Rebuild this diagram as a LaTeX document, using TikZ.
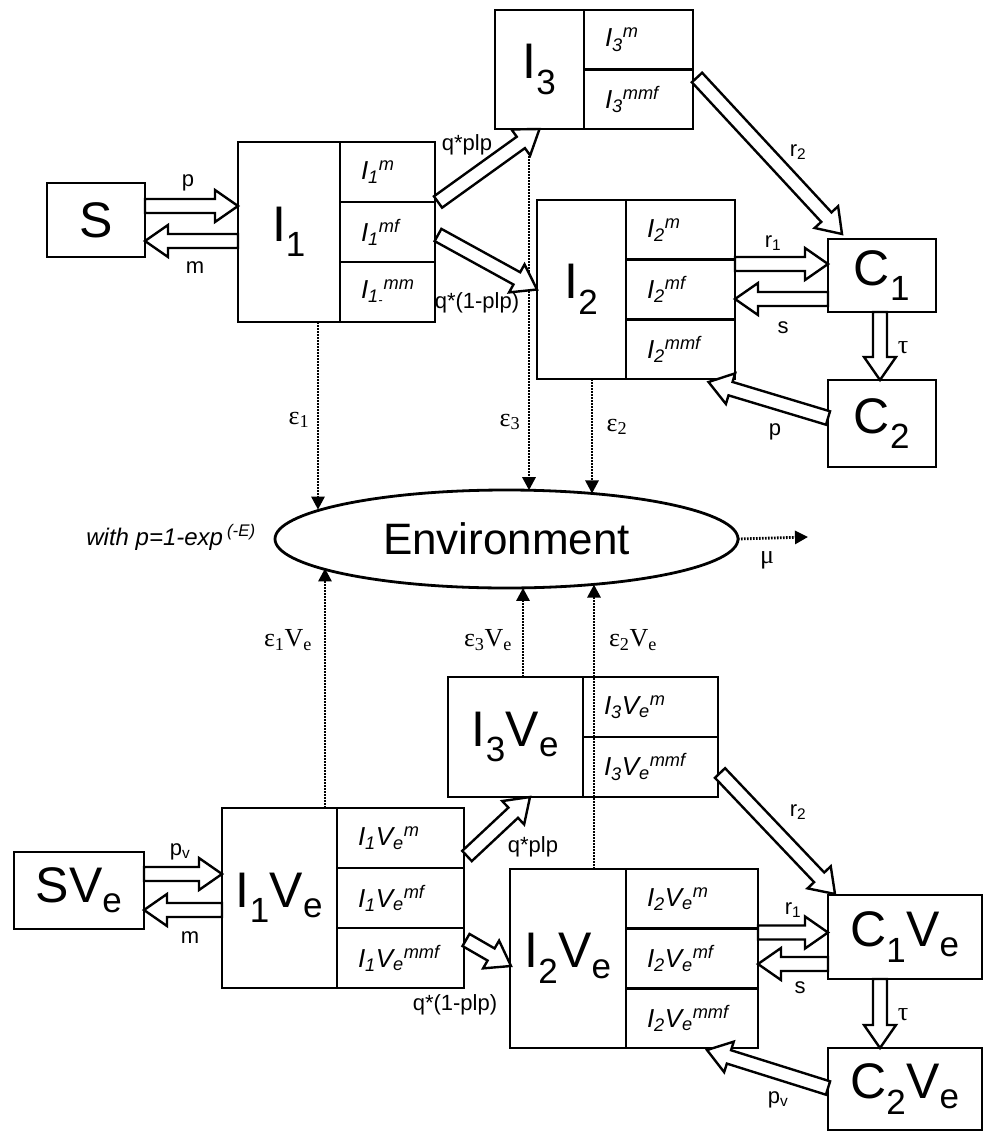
\documentclass[tikz,border=0pt]{standalone}
\usepackage{fontspec}
\setmainfont{Liberation Sans}
\newfontfamily\greekfont{Liberation Serif}
\usetikzlibrary{shapes.geometric}
\usetikzlibrary{arrows.meta, calc, positioning}

\begin{document}
\begin{tikzpicture}[x = 1pt, y = -1pt, > = {Triangle[length=13pt, width=13pt]},
	box/.style = {draw, line width=2.8pt, outer sep=0pt, inner sep=0pt, anchor=north west, font=\fontsize{50}{52}\selectfont},
	cell/.style = {draw, line width=2.8pt, outer sep=0pt, inner xsep=21pt, inner ysep=0pt, anchor=north west, align=left, minimum height=60pt, text width=#1, font=\fontsize{26}{28}\selectfont\itshape},
	env/.style = {ellipse, draw, line width=2.8pt, minimum width=463pt, minimum height=98pt, inner sep=0pt, outer sep=0pt, font=\fontsize{44}{46}\selectfont},
	eps/.style = {->, line width=2.8pt, dash pattern=on 1.6pt off 1.4pt},
	lab/.style = {inner sep=0pt, font=\fontsize{22}{24}\selectfont},
	glab/.style = {inner sep=0pt, font=\fontsize{26}{28}\greekfont},
	fat/.style = {draw, line width=2.4pt, line join=miter, fill=white,
		to path={let \p1=(\tikztostart), \p2=(\tikztotarget),
			\n1={atan2(\y2-\y1,\x2-\x1)}, \n2={veclen(\x2-\x1,\y2-\y1)} in
			($(\p1)+(\n1+90:7pt)$) -- ($(\p1)+(\n1+90:7pt)+(\n1:{\n2-23pt})$)
			-- ($(\p1)+(\n1+90:16pt)+(\n1:{\n2-23pt})$) -- (\p2)
			-- ($(\p1)+(\n1-90:16pt)+(\n1:{\n2-23pt})$)
			-- ($(\p1)+(\n1-90:7pt)+(\n1:{\n2-23pt})$) -- ($(\p1)+(\n1-90:7pt)$) -- cycle}}]

\useasboundingbox (0,0) rectangle (989,1132);

% upper half: unvaccinated
\node[box, minimum width=98pt, minimum height=74pt]		(S)		at (47,183)		{S};
\node[box, minimum width=102pt, minimum height=180pt]	(I1)	at (238,142)	{I\textsubscript{1}};
\node[cell=53pt]								(I1m)	at (I1.north east)	{I\textsubscript{1}\textsuperscript{m}};
\node[cell=53pt, below=0pt of I1m]				(I1mf)						{I\textsubscript{1}\textsuperscript{mf}};
\node[cell=53pt, below=0pt of I1mf]				(I1mm)						{I\textsubscript{1\textsubscript{-}}\textsuperscript{mm}};
\node[box, minimum width=89pt, minimum height=119pt]	(I3)	at (495,10)		{I\textsubscript{3}};
\node[cell=67pt, minimum height=59.5pt]			(I3m)	at (I3.north east)	{I\textsubscript{3}\textsuperscript{m}};
\node[cell=67pt, minimum height=59.5pt, below=0pt of I3m]	(I3mmf)			{I\textsubscript{3}\textsuperscript{mmf}};
\node[box, minimum width=89pt, minimum height=179pt]	(I2)	at (537,200)	{I\textsubscript{2}};
\node[cell=67pt, minimum height=59.67pt]		(I2m)	at (I2.north east)	{I\textsubscript{2}\textsuperscript{m}};
\node[cell=67pt, minimum height=59.67pt, below=0pt of I2m]	(I2mf)			{I\textsubscript{2}\textsuperscript{mf}};
\node[cell=67pt, minimum height=59.67pt, below=0pt of I2mf]	(I2mmf)			{I\textsubscript{2}\textsuperscript{mmf}};
\node[box, minimum width=108pt, minimum height=73pt]	(C1)	at (828,239)	{C\textsubscript{1}};
\node[box, minimum width=108pt, minimum height=87pt]	(C2)	at (828,380)	{C\textsubscript{2}};

% environment
\node[env]										(Env)	at (506.5,539)	{Environment};
\node[inner sep=0pt, font=\fontsize{24}{26}\selectfont\itshape]	(withp)	at (171,537)	{with p=1-exp\,\textsuperscript{(-E)}};
\coordinate										(muend)	at (808,537);

% lower half: vaccinated
\node[box, minimum width=130pt, minimum height=77pt]	(SV)	at (14,852)		{SV\textsubscript{e}};
\node[box, minimum width=115pt, minimum height=180pt]	(I1V)	at (222,808)	{I\textsubscript{1}V\textsubscript{e}};
\node[cell=85pt]								(I1Vm)	at (I1V.north east)	{I\textsubscript{1}V\textsubscript{e}\textsuperscript{m}};
\node[cell=85pt, below=0pt of I1Vm]				(I1Vmf)						{I\textsubscript{1}V\textsubscript{e}\textsuperscript{mf}};
\node[cell=85pt, below=0pt of I1Vmf]			(I1Vmmf)					{I\textsubscript{1}V\textsubscript{e}\textsuperscript{mmf}};
\node[box, minimum width=135pt, minimum height=120pt]	(I3V)	at (448,677)	{I\textsubscript{3}V\textsubscript{e}};
\node[cell=93pt]								(I3Vm)	at (I3V.north east)	{I\textsubscript{3}V\textsubscript{e}\textsuperscript{m}};
\node[cell=93pt, below=0pt of I3Vm]				(I3Vmmf)					{I\textsubscript{3}V\textsubscript{e}\textsuperscript{mmf}};
\node[box, minimum width=116pt, minimum height=179pt]	(I2V)	at (510,869)	{I\textsubscript{2}V\textsubscript{e}};
\node[cell=90pt, minimum height=59.67pt]		(I2Vm)	at (I2V.north east)	{I\textsubscript{2}V\textsubscript{e}\textsuperscript{m}};
\node[cell=90pt, minimum height=59.67pt, below=0pt of I2Vm]	(I2Vmf)			{I\textsubscript{2}V\textsubscript{e}\textsuperscript{mf}};
\node[cell=90pt, minimum height=59.67pt, below=0pt of I2Vmf]	(I2Vmmf)		{I\textsubscript{2}V\textsubscript{e}\textsuperscript{mmf}};
\node[box, minimum width=154pt, minimum height=84pt]	(C1V)	at (828,895)	{C\textsubscript{1}V\textsubscript{e}};
\node[box, minimum width=154pt, minimum height=82pt]	(C2V)	at (828,1048)	{C\textsubscript{2}V\textsubscript{e}};

% shedding into the environment
\coordinate	(e1)	at ([xshift=29pt]I1.south);
\coordinate	(e3)	at ([xshift=-10.5pt]I3.south);
\coordinate	(e2)	at ([xshift=10.5pt]I2.south);
\coordinate	(e1V)	at ([xshift=45.5pt]I1V.north);
\coordinate	(e3V)	at ([xshift=7.5pt]I3V.north);
\coordinate	(e2V)	at ([xshift=-32pt]I2V.north east);
\draw[eps]	(e1)	-- (e1 |- Env.171);
\draw[eps]	(e3)	-- (e3 |- Env.65);
\draw[eps]	(e2)	-- (e2 |- Env.28);
\draw[eps]	(e1V)	-- (e1V |- Env.189);
\draw[eps]	(e3V)	-- (e3V |- Env.289);
\draw[eps]	(e2V)	-- (e2V |- Env.332);
\draw[eps]	(Env.east)	-- (muend);

% transitions
\path	([yshift=14pt]S.east)		edge[fat]	([yshift=26pt]I1.west);
\path	([yshift=-9pt]I1.west)		edge[fat]	([yshift=-21pt]S.east);
\path	([xshift=3pt]I1m.south east)	edge[fat]	(I3.south);
\path	([shift={(3pt,-3pt)}]I1mf.east)	edge[fat]	(I2.west);
\path	([shift={(4pt,-8pt)}]I3m.south east)	edge[fat]	([shift={(14pt,5pt)}]C1.north west);
\path	([yshift=25.5pt]I2mf.east)	edge[fat]	([yshift=11.5pt]C1.west);
\path	([yshift=-23.5pt]C1.west)	edge[fat]	([yshift=-9.5pt]I2mf.east);
\path	([xshift=-2pt]C1.south)		edge[fat]	([xshift=-2pt]C2.north);
\path	([yshift=5.5pt]C2.west)		edge[fat]	([shift={(28pt,-3pt)}]I2mmf.south);

\path	([yshift=16.5pt]SV.east)	edge[fat]	([yshift=24pt]I1V.west);
\path	([yshift=-12pt]I1V.west)	edge[fat]	([yshift=-19.5pt]SV.east);
\path	([shift={(3pt,12pt)}]I1Vm.south east)	edge[fat]	([xshift=14.5pt]I3V.south);
\path	([shift={(2pt,-12pt)}]I1Vmmf.north east)	edge[fat]	([shift={(1pt,-7.5pt)}]I2V.west);
\path	([shift={(2pt,-6pt)}]I3Vmmf.east)	edge[fat]	([shift={(7pt,1pt)}]C1V.north west);
\path	([yshift=26pt]I2Vmf.east)	edge[fat]	([yshift=4.5pt]C1V.west);
\path	([yshift=-27pt]C1V.west)	edge[fat]	([yshift=-5.5pt]I2Vmf.east);
\path	([xshift=-25pt]C1V.south)	edge[fat]	([xshift=-25pt]C2V.north);
\path	([yshift=1pt]C2V.west)		edge[fat]	([shift={(15pt,-2pt)}]I2Vmmf.south);

% labels
\node[lab]	(lp)	at (188,183)	{p};
\node[lab]	(lm)	at (195,268)	{m};
\node[lab]	(lq)	at (467,145)	{q*plp};
\node[lab]	(lnq)	at (477,303)	{q*(1-plp)};
\node[lab]	(lr2)	at (798,152)	{r\textsubscript{2}};
\node[lab]	(lr1)	at (773,243)	{r\textsubscript{1}};
\node[lab]	(ls)	at (783,328)	{s};
\node[glab]	(ltau)	at (903,348)	{τ};
\node[lab]	(lpc)	at (775,432)	{p};
\node[glab]	(le1)	at (299,420)	{ε\textsubscript{1}};
\node[glab]	(le3)	at (510,422)	{ε\textsubscript{3}};
\node[glab]	(le2)	at (617,427)	{ε\textsubscript{2}};
\node[glab]	(lmu)	at (767,560)	{μ};
\node[glab]	(le1V)	at (288,640)	{ε\textsubscript{1}V\textsubscript{e}};
\node[glab]	(le3V)	at (488,640)	{ε\textsubscript{3}V\textsubscript{e}};
\node[glab]	(le2V)	at (633,640)	{ε\textsubscript{2}V\textsubscript{e}};

\node[lab]	(lpV)	at (180,852)	{p\textsubscript{v}};
\node[lab]	(lmV)	at (190,938)	{m};
\node[lab]	(lqV)	at (533,847)	{q*plp};
\node[lab]	(lnqV)	at (455,1005)	{q*(1-plp)};
\node[lab]	(lr2V)	at (798,812)	{r\textsubscript{2}};
\node[lab]	(lr1V)	at (793,910)	{r\textsubscript{1}};
\node[lab]	(lsV)	at (800,988)	{s};
\node[glab]	(ltauV)	at (903,1015)	{τ};
\node[lab]	(lpcV)	at (778,1100)	{p\textsubscript{v}};

\end{tikzpicture}
\end{document}
